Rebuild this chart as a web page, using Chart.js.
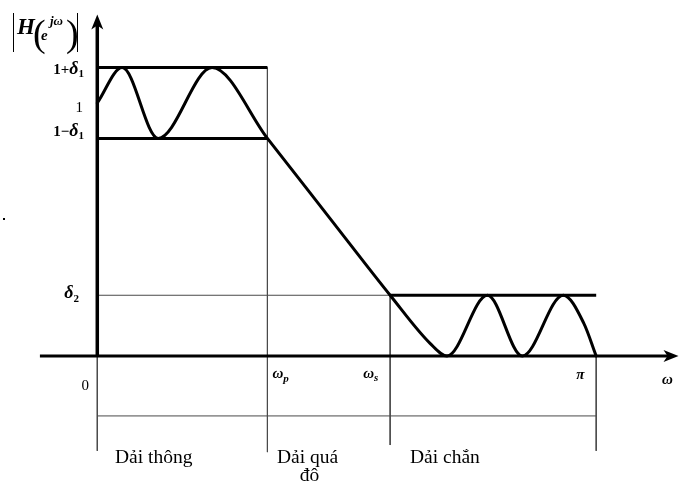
<!DOCTYPE html>
<html>
<head>
<meta charset="utf-8">
<script src="https://cdn.jsdelivr.net/npm/chart.js@4/dist/chart.umd.min.js"></script>
<style>
  html, body { margin: 0; padding: 0; background: #fff; }
  #wrap { width: 683px; height: 485px; position: relative; }
</style>
</head>
<body>
<div id="wrap"><canvas id="c"></canvas></div>
<script>
// Frequency in units of π, magnitude |H(e^jω)|
const bandEdges = [0, 0.341, 0.587, 1];          // 0, ωp, ωs, π
const edgeLabels = ['0', 'ω', 'ω', 'π'];
const edgeSubs = ['', 'p', 's', ''];
const bandNames = ['Dải thông', 'Dải quá\nđô', 'Dải chắn'];
const delta1 = 0.14;
const delta2 = 0.24;

// Magnitude response sampled along the curve
const respW = [0, 0.05, 0.122, 0.23, 0.341, 0.464, 0.587, 0.667, 0.701, 0.782, 0.852, 0.934, 0.975, 1.0];
const respH = [1.0, 1.14, 0.86, 1.14, 0.86, 0.55, 0.24, 0.05, 0, 0.24, 0, 0.24, 0.13, 0];

// Bracket under the axis that groups the three bands
const bracketLevel = -0.237;
const bracketDrops = [-0.375, -0.38, -0.352, -0.375];

const wp = bandEdges[1], ws = bandEdges[2], wpi = bandEdges[3];

const pts = (xs, ys) => xs.map((x, i) => ({ x, y: ys[i] }));
const seg = (x0, y0, x1, y1) => [{ x: x0, y: y0 }, { x: x1, y: y1 }];

const thin = { borderColor: '#4a4a4a', borderWidth: 1, pointRadius: 0, showLine: true, fill: false };
const thick = { borderColor: '#000', borderWidth: 3, pointRadius: 0, showLine: true, fill: false };

const datasets = [
  Object.assign({ data: pts(respW, respH), cubicInterpolationMode: 'monotone', borderCapStyle: 'round', borderJoinStyle: 'round' }, thick),
  Object.assign({ data: seg(0, 1 + delta1, wp, 1 + delta1) }, thick),
  Object.assign({ data: seg(0, 1 - delta1, wp, 1 - delta1) }, thick),
  Object.assign({ data: seg(ws, delta2, wpi, delta2) }, thick),
  Object.assign({ data: seg(0, delta2, ws, delta2) }, thin),
  Object.assign({ data: seg(wp, 1 + delta1, wp, bracketDrops[1]) }, thin),
  Object.assign({ data: seg(ws, delta2, ws, bracketDrops[2]) }, thin),
  Object.assign({ data: seg(0, 0, 0, bracketDrops[0]) }, thin),
  Object.assign({ data: seg(wpi, 0, wpi, bracketDrops[3]) }, thin),
  Object.assign({ data: seg(0, bracketLevel, wpi, bracketLevel) }, thin)
];

const SERIF = '"Liberation Serif", "DejaVu Serif", serif';

// Draw a run of text pieces (each with its own font and vertical offset)
function drawRun(ctx, x, y, pieces, align) {
  let total = 0;
  pieces.forEach(p => { ctx.font = p.font; total += ctx.measureText(p.t).width + (p.gap || 0); });
  let cx = align === 'right' ? x - total : (align === 'center' ? x - total / 2 : x);
  pieces.forEach(p => {
    ctx.font = p.font;
    ctx.fillText(p.t, cx, y + (p.dy || 0));
    cx += ctx.measureText(p.t).width + (p.gap || 0);
  });
}

const annotate = {
  id: 'annotate',
  afterDatasetsDraw(chart) {
    const ctx = chart.ctx;
    const X = chart.scales.x, Y = chart.scales.y;
    const px = v => X.getPixelForValue(v);
    const py = v => Y.getPixelForValue(v);
    ctx.save();
    ctx.fillStyle = '#000';
    ctx.strokeStyle = '#000';

    // axes
    const ox = px(0), oy = py(0);
    const xEnd = px(1.165), xStart = px(-0.115), yTop = py(1.35);
    ctx.lineWidth = 3.5;
    ctx.beginPath(); ctx.moveTo(ox, oy + 1); ctx.lineTo(ox, yTop + 8); ctx.stroke();
    ctx.lineWidth = 3;
    ctx.beginPath(); ctx.moveTo(xStart, oy); ctx.lineTo(xEnd - 8, oy); ctx.stroke();
    // arrow heads
    ctx.beginPath();
    ctx.moveTo(ox, yTop); ctx.lineTo(ox + 6, yTop + 15); ctx.lineTo(ox, yTop + 11); ctx.lineTo(ox - 6, yTop + 15);
    ctx.closePath(); ctx.fill();
    ctx.beginPath();
    ctx.moveTo(xEnd, oy); ctx.lineTo(xEnd - 15, oy - 6); ctx.lineTo(xEnd - 11, oy); ctx.lineTo(xEnd - 15, oy + 6);
    ctx.closePath(); ctx.fill();

    ctx.textBaseline = 'alphabetic';
    const B = 'bold 15px ' + SERIF;
    const BI = 'bold italic 18px ' + SERIF;
    const SUB = 'bold 11px ' + SERIF;
    const SUBI = 'bold italic 11px ' + SERIF;

    // y-axis title |H(e^jω)|
    ctx.fillRect(13, 13, 1, 39);
    ctx.fillRect(77, 13, 1, 39);
    drawRun(ctx, 17, 34, [{ t: 'H', font: 'bold italic 23px ' + SERIF }]);
    ctx.font = '38px ' + SERIF;
    ctx.fillText('(', 33, 46);
    ctx.fillText(')', 66, 46);
    drawRun(ctx, 41, 40, [{ t: 'e', font: 'bold italic 15px ' + SERIF }]);
    drawRun(ctx, 50, 25, [{ t: 'jω', font: 'bold italic 13px ' + SERIF }]);

    // level labels
    const rightEdge = 84;
    drawRun(ctx, rightEdge, py(1 + delta1) + 6, [
      { t: '1+', font: B }, { t: 'δ', font: BI }, { t: '1', font: SUB, dy: 3 }
    ], 'right');
    drawRun(ctx, rightEdge - 1, 112, [{ t: '1', font: '15px ' + SERIF }], 'right');
    drawRun(ctx, rightEdge, py(1 - delta1) - 2, [
      { t: '1−', font: B }, { t: 'δ', font: BI }, { t: '1', font: SUB, dy: 3 }
    ], 'right');
    drawRun(ctx, rightEdge - 5, py(delta2) + 3, [
      { t: 'δ', font: BI }, { t: '2', font: SUB, dy: 4 }
    ], 'right');

    // frequency labels
    drawRun(ctx, px(0) - 12, 390, [{ t: edgeLabels[0], font: '15px ' + SERIF }], 'center');
    drawRun(ctx, px(wp) + 5, 378, [{ t: edgeLabels[1], font: 'bold italic 15px ' + SERIF }, { t: edgeSubs[1], font: SUBI, dy: 4 }]);
    drawRun(ctx, px(ws) - 27, 378, [{ t: edgeLabels[2], font: 'bold italic 15px ' + SERIF }, { t: edgeSubs[2], font: SUBI, dy: 3 }]);
    drawRun(ctx, px(wpi) - 20, 379, [{ t: edgeLabels[3], font: 'bold italic 15px ' + SERIF }]);
    drawRun(ctx, 662, 384, [{ t: 'ω', font: 'bold italic 15px ' + SERIF }]);

    // band names
    ctx.font = '19.5px ' + SERIF;
    ctx.textAlign = 'left';
    const nameX = [115, 277, 410];
    bandNames.forEach((n, i) => {
      const lines = n.split('\n');
      lines.forEach((ln, k) => {
        if (k === 0) ctx.fillText(ln, nameX[i], 463);
        else {
          const w0 = ctx.measureText(lines[0]).width;
          ctx.textAlign = 'center';
          ctx.fillText(ln, nameX[i] + w0 / 2 + 2, 481);
          ctx.textAlign = 'left';
        }
      });
    });

    // stray mark at the left margin
    ctx.fillRect(3, 218, 2, 2);
    ctx.restore();
  }
};

new Chart(document.getElementById('c'), {
  type: 'scatter',
  data: { datasets },
  options: {
    responsive: true,
    maintainAspectRatio: false,
    animation: false,
    layout: { padding: 0 },
    plugins: { legend: { display: false }, tooltip: { enabled: false } },
    elements: { line: { tension: 0 } },
    scales: {
      x: { type: 'linear', min: -0.195, max: 1.174, display: false },
      y: { type: 'linear', min: -0.51, max: 1.407, display: false }
    }
  },
  plugins: [annotate]
});
</script>
</body>
</html>
